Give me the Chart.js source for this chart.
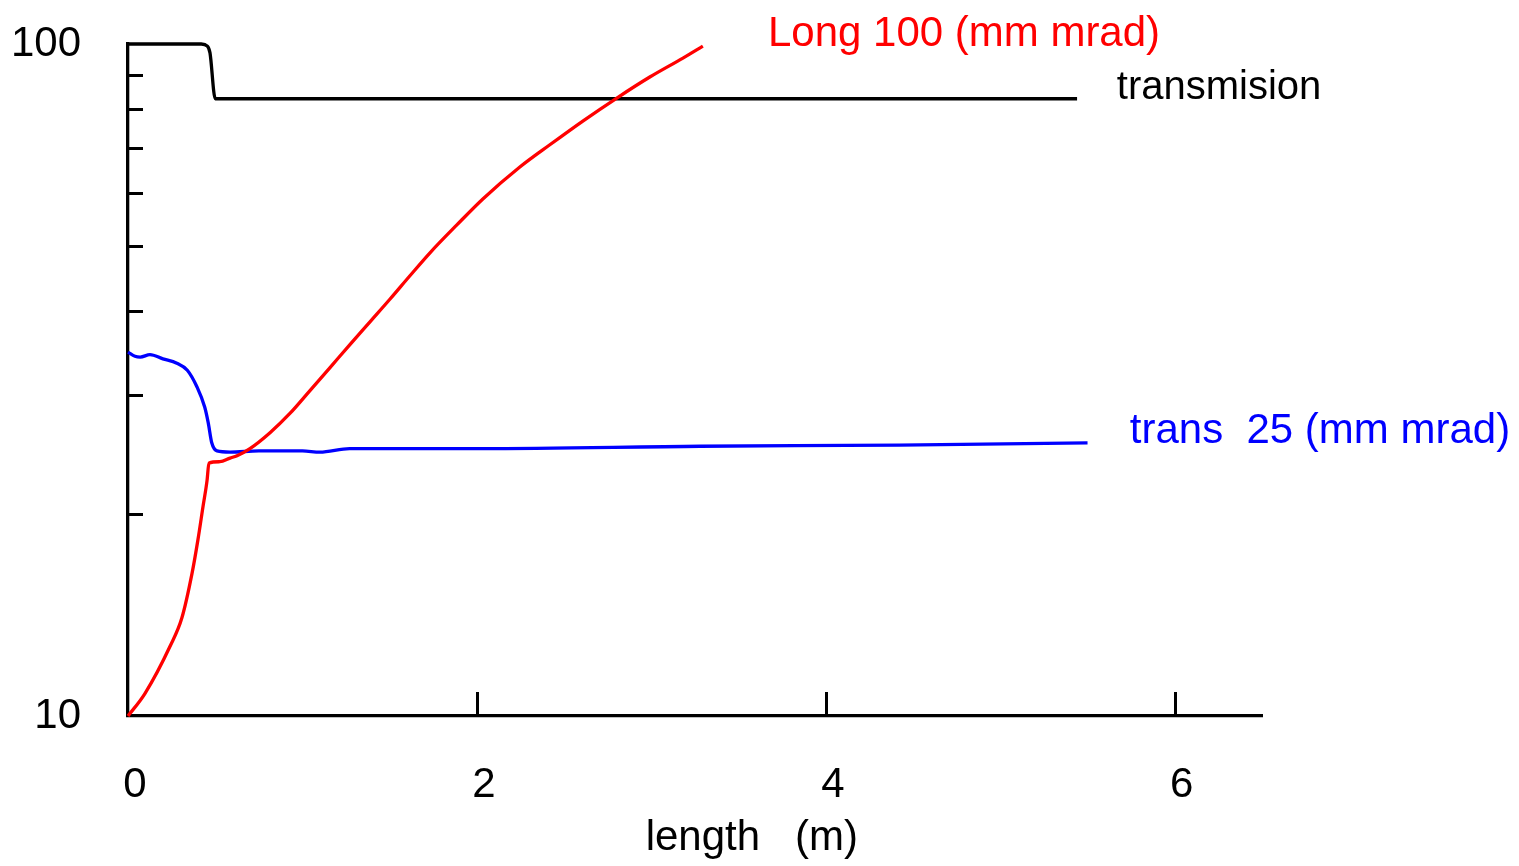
<!DOCTYPE html>
<html>
<head>
<meta charset="utf-8">
<title>Emittance and transmission vs length</title>
<script src="https://cdn.jsdelivr.net/npm/chart.js@4/dist/chart.umd.min.js"></script>
<style>
  html, body { margin: 0; padding: 0; background: #ffffff; }
  canvas { display: block; }
</style>
</head>
<body>
<canvas id="c" width="1519" height="866"></canvas>
<script>
// Longitudinal emittance (mm mrad) along the structure
const longX = [0, 0.097, 0.241, 0.309, 0.367, 0.401, 0.430, 0.453, 0.464, 0.527, 0.585, 0.625, 0.699, 0.814, 0.928, 1.043, 1.158, 1.272, 1.387, 1.501, 1.616, 1.731, 1.885, 2.034, 2.246, 2.418, 2.607, 2.802, 2.991, 3.181, 3.295];
const longY = [10.0, 10.8, 12.7, 14.0, 16.3, 18.3, 20.5, 22.4, 23.8, 23.9, 24.2, 24.4, 25.0, 26.4, 28.2, 30.5, 33.0, 35.7, 38.6, 41.7, 45.2, 48.9, 53.8, 58.8, 65.6, 70.8, 76.8, 83.1, 89.3, 95.3, 99.3];

// Transmission (%)
const transmX = [0, 0.42, 0.455, 0.47, 0.50, 5.44];
const transmY = [100, 100, 99.3, 97.0, 82.9, 82.9];

// Transverse emittance (mm mrad)
const transX = [0, 0.04, 0.07, 0.126, 0.20, 0.28, 0.34, 0.395, 0.44, 0.46, 0.48, 0.51, 0.585, 0.75, 1.0, 1.10, 1.27, 2.02, 3.28, 4.42, 5.50];
const transY = [34.8, 34.3, 34.2, 34.5, 34.0, 33.5, 32.7, 30.9, 28.8, 27.3, 25.5, 24.8, 24.7, 24.8, 24.8, 24.7, 25.0, 25.0, 25.2, 25.3, 25.5];

// Axis ticks
const xTickValues = [0, 2, 4, 6];
const yTickValues = [10, 100];
const yMinorTicks = [20, 30, 40, 50, 60, 70, 80, 90];
const xInnerTicks = [2, 4, 6];

// Curve captions, placed at the x given here and on each curve's last value
const captionText = ['Long 100 (mm mrad)', 'transmision', 'trans  25 (mm mrad)'];
const captionX = [3.668, 5.668, 5.742];
const captionSize = [42, 40, 42];
const axisTitle = 'length   (m)';

const FONT = '"Liberation Sans", Arial, sans-serif';
Chart.defaults.font.family = FONT;
Chart.defaults.color = '#000000';

function toPoints(xs, ys) { return xs.map((x, i) => ({ x: x, y: ys[i] })); }

const decorations = {
  id: 'decorations',
  afterDatasetsDraw(chart) {
    const ctx = chart.ctx;
    const xs = chart.scales.x, ys = chart.scales.y;
    const left = chart.chartArea.left, bottom = chart.chartArea.bottom;
    ctx.save();
    ctx.strokeStyle = '#000000';
    ctx.lineWidth = 3;
    ctx.lineCap = 'butt';
    // inward minor ticks on the log axis
    yMinorTicks.forEach(v => {
      const py = Math.round(ys.getPixelForValue(v)) + 0.5;
      ctx.beginPath();
      ctx.moveTo(left, py);
      ctx.lineTo(left + 15, py);
      ctx.stroke();
    });
    // inward ticks on the length axis
    xInnerTicks.forEach(v => {
      const px = Math.round(xs.getPixelForValue(v)) + 0.5;
      ctx.beginPath();
      ctx.moveTo(px, bottom);
      ctx.lineTo(px, bottom - 24);
      ctx.stroke();
    });
    // curve captions
    ctx.textAlign = 'left';
    ctx.textBaseline = 'alphabetic';
    chart.data.datasets.forEach((ds, i) => {
      const last = ds.data[ds.data.length - 1];
      ctx.font = captionSize[i] + 'px ' + FONT;
      ctx.fillStyle = ds.borderColor;
      ctx.fillText(captionText[i], xs.getPixelForValue(captionX[i]), ys.getPixelForValue(last.y));
    });
    // axis title
    ctx.font = '42px ' + FONT;
    ctx.fillStyle = '#000000';
    ctx.textAlign = 'center';
    ctx.fillText(axisTitle, xs.getPixelForValue(3.576), bottom + 134);
    ctx.restore();
  }
};

new Chart(document.getElementById('c'), {
  type: 'line',
  data: {
    datasets: [
      { label: 'Long', data: toPoints(longX, longY), borderColor: '#ff0000', borderWidth: 3.3 },
      { label: 'transmision', data: toPoints(transmX, transmY), borderColor: '#000000', borderWidth: 3.3 },
      { label: 'trans', data: toPoints(transX, transY), borderColor: '#0000ff', borderWidth: 3.3 }
    ]
  },
  options: {
    responsive: false,
    devicePixelRatio: 1,
    animation: false,
    layout: { padding: { top: 44, right: 257, left: 0, bottom: 0 } },
    elements: {
      line: { tension: 0, cubicInterpolationMode: 'monotone', fill: false },
      point: { radius: 0, hoverRadius: 0 }
    },
    datasets: { line: { clip: false } },
    plugins: { legend: { display: false }, tooltip: { enabled: false } },
    scales: {
      x: {
        type: 'linear',
        min: 0,
        max: 6.5,
        grid: { display: false, drawTicks: false },
        border: { display: true, color: '#000000', width: 3.3 },
        afterBuildTicks(scale) { scale.ticks = xTickValues.map(v => ({ value: v })); },
        afterFit(scale) {
          scale.height = 150;
          scale.paddingLeft = 0;
          scale.paddingRight = 0;
        },
        ticks: {
          autoSkip: false,
          maxRotation: 0,
          padding: 44,
          labelOffset: 7,
          color: '#000000',
          font: { size: 42 },
          callback: v => String(v)
        }
      },
      y: {
        type: 'logarithmic',
        min: 10,
        max: 100,
        grid: { display: false, drawTicks: false },
        border: { display: true, color: '#000000', width: 3.3 },
        afterBuildTicks(scale) { scale.ticks = yTickValues.map(v => ({ value: v })); },
        afterFit(scale) {
          scale.width = 128;
          scale.paddingTop = 0;
          scale.paddingBottom = 0;
        },
        ticks: {
          autoSkip: false,
          padding: 47,
          color: '#000000',
          font: { size: 42 },
          callback: v => String(v)
        }
      }
    }
  },
  plugins: [decorations]
});
</script>
</body>
</html>
